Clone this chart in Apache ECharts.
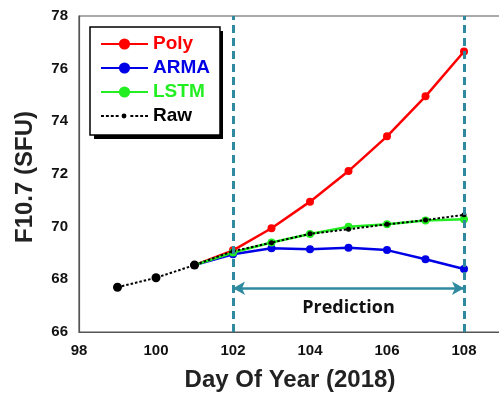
<!DOCTYPE html>
<html>
<head>
<meta charset="utf-8">
<script src="https://cdn.jsdelivr.net/npm/echarts@6/dist/echarts.min.js"></script>
<style>html,body{margin:0;padding:0;background:#fff}#c{width:499px;height:394px}</style>
</head>
<body>
<div id="c"></div>
<script>
const daysRaw = [99, 100, 101, 102, 103, 104, 105, 106, 107, 108];
const rawVals = [67.7, 68.06, 68.54, 69.07, 69.39, 69.73, 69.9, 70.09, 70.25, 70.45];
const daysPred = [101, 102, 103, 104, 105, 106, 107, 108];
const polyVals = [68.54, 69.1, 69.94, 70.95, 72.11, 73.43, 74.95, 76.65];
const armaVals = [68.54, 68.95, 69.18, 69.14, 69.2, 69.11, 68.76, 68.39];
const lstmVals = [68.54, 69.02, 69.4, 69.72, 70.0, 70.09, 70.23, 70.28];
const predStart = 102, predEnd = 108, arrowLevel = 67.66;
const xTicks = {min: 98, max: 110, interval: 2};
const yTicks = {min: 66, max: 78, interval: 2};

const zip = (xs, ys) => xs.map((x, i) => [x, ys[i]]);
const teal = '#2F8AA0';
// legend icon for Raw: short dashes with a small dot
let rawIcon = 'path://';
for (let x = 0; x < 47; x += 5) {
  if (x >= 19 && x <= 26) continue;
  rawIcon += 'M' + x + ' 1.6h3v1.8h-3Z';
}
rawIcon += 'M21 2.5a2.5 2.5 0 1 1 5 0a2.5 2.5 0 1 1 -5 0Z';

const chart = echarts.init(document.getElementById('c'), null, {renderer: 'canvas'});
const lineSeries = (name, color, xs, ys) => ({
  name, type: 'line', data: zip(xs, ys), symbol: 'circle', symbolSize: 8,
  itemStyle: {color}, lineStyle: {color, width: 2.5}, z: 3, animation: false
});
chart.setOption({
  animation: false,
  grid: {left: 79, top: 16, width: 462, height: 316, show: true, borderColor: '#555', borderWidth: 1.2, backgroundColor: '#fff',
    outerBoundsMode: 'none', containLabel: false},
  xAxis: {type: 'value', min: xTicks.min, max: xTicks.max, interval: xTicks.interval,
    axisLine: {show: true, lineStyle: {color: '#555', width: 1.2}}, axisTick: {show: false}, splitLine: {show: false},
    axisLabel: {color: '#111', fontFamily: 'Liberation Sans, Arial', fontWeight: 'bold', fontSize: 15, margin: 11}},
  yAxis: {type: 'value', min: yTicks.min, max: yTicks.max, interval: yTicks.interval,
    axisLine: {show: true, lineStyle: {color: '#555', width: 1.2}}, axisTick: {show: false}, splitLine: {show: false},
    axisLabel: {color: '#111', fontFamily: 'Liberation Sans, Arial', fontWeight: 'bold', fontSize: 15, margin: 11}},
  legend: {
    orient: 'vertical', left: 90, top: 27, padding: [7, 10, 9, 10], itemGap: 4, itemWidth: 47, itemHeight: 14,
    backgroundColor: '#fff', borderColor: '#000', borderWidth: 1.5, z: 6,
    textStyle: {fontFamily: 'Liberation Sans, Arial', fontWeight: 'bold', fontSize: 19, lineHeight: 20},
    data: [
      {name: 'Poly', textStyle: {color: '#FF0000'}},
      {name: 'ARMA', textStyle: {color: '#0000E6'}},
      {name: 'LSTM', textStyle: {color: '#22EE22'}},
      {name: 'Raw', icon: rawIcon, textStyle: {color: '#000'}}
    ]
  },
  graphic: [
    {type: 'rect', z: 5, shape: {x: 94, y: 31, width: 129, height: 108}, style: {fill: '#000'}},
    {type: 'text', x: 290, y: 380, style: {text: 'Day Of Year (2018)', fill: '#222', font: 'bold 24px "Liberation Sans", Arial', align: 'center', verticalAlign: 'middle'}},
    {type: 'text', x: 25, y: 177, rotation: Math.PI / 2, style: {text: 'F10.7 (SFU)', fill: '#222', font: 'bold 24px "Liberation Sans", Arial', align: 'center', verticalAlign: 'middle'}}
  ],
  series: [
    lineSeries('Poly', '#FF0000', daysPred, polyVals),
    lineSeries('ARMA', '#0000E6', daysPred, armaVals),
    lineSeries('LSTM', '#22EE22', daysPred, lstmVals),
    {
      name: 'Raw', type: 'line', data: zip(daysRaw, rawVals), symbol: 'circle',
      symbolSize: (v, p) => (p.dataIndex < 3 ? 9 : 5),
      itemStyle: {color: '#000'}, lineStyle: {color: '#000', width: 2, type: [2.5, 2]}, z: 4,
      markLine: {
        silent: true, symbol: 'none', animation: false,
        lineStyle: {color: teal, width: 3, type: [8, 5]},
        label: {show: false},
        data: [
          {xAxis: predStart},
          {xAxis: predEnd},
          [
            {coord: [predStart, arrowLevel], symbol: 'arrow', symbolSize: [10, 12], lineStyle: {type: 'solid', width: 2.5, color: teal},
             label: {show: true, formatter: 'Prediction', position: 'insideMiddleBottom', distance: 11, color: '#111', fontFamily: '"Open Sans", sans-serif', fontWeight: 'bold', fontSize: 18}},
            {coord: [predEnd, arrowLevel], symbol: 'arrow', symbolSize: [10, 12]}
          ]
        ]
      }
    }
  ]
});
</script>
</body>
</html>
